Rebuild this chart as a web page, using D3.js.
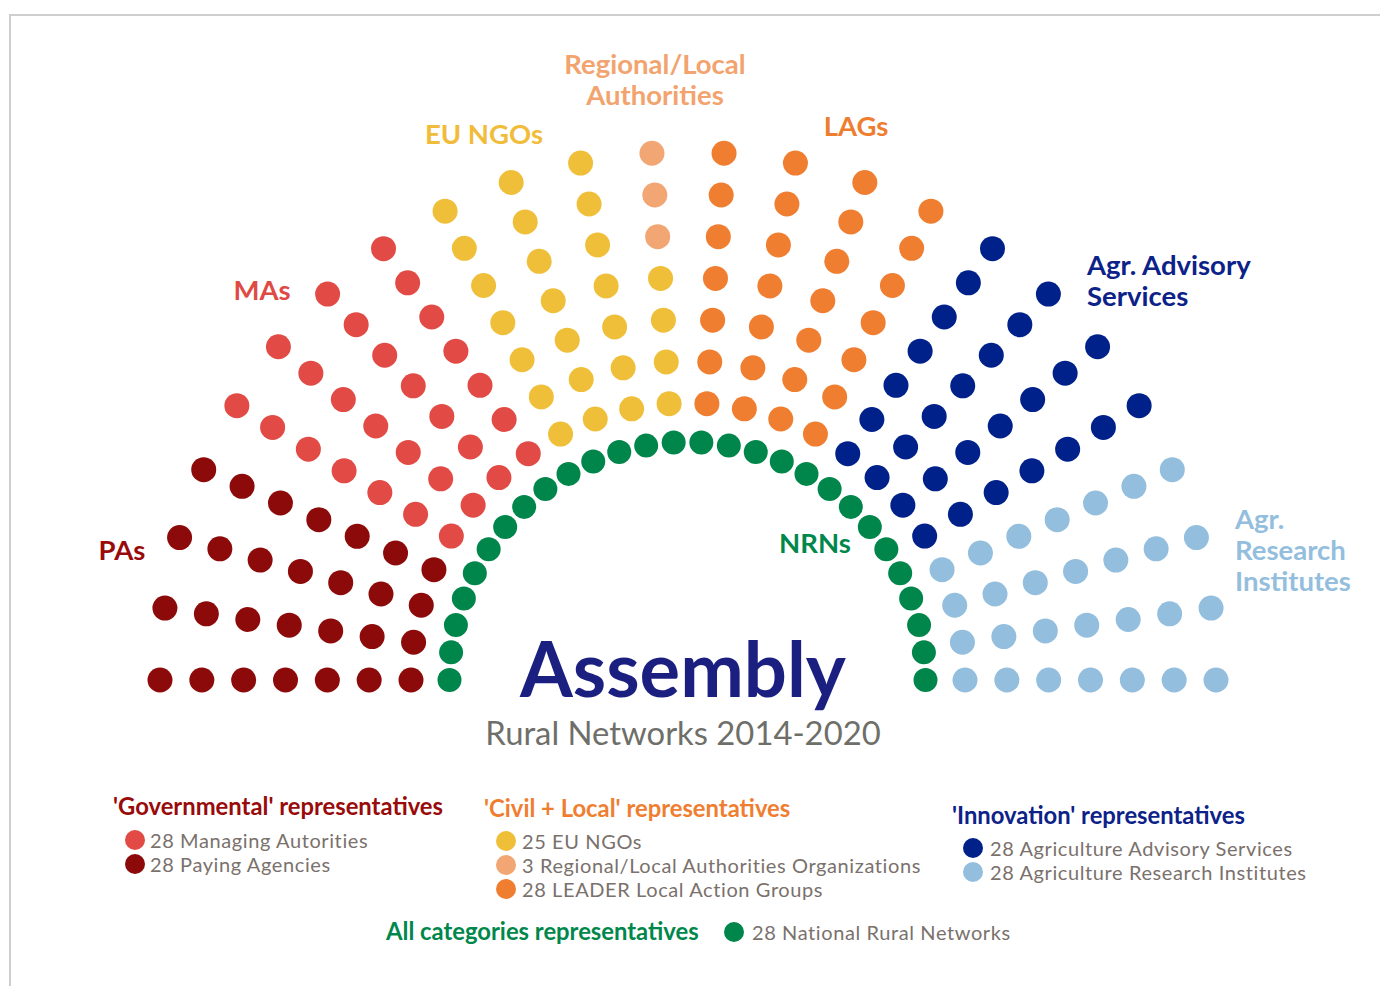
<!DOCTYPE html>
<html>
<head>
<meta charset="utf-8">
<script src="https://cdn.jsdelivr.net/npm/d3@7"></script>
<style>
  html, body { margin: 0; padding: 0; background: #fff; }
  svg { display: block; font-family: Lato, "Open Sans", sans-serif; }
</style>
</head>
<body>
<div id="chart"></div>
<script>
// Seat groups, filled ray by ray (left to right), inner to outer
const groups = ["PAs", "MAs", "EU NGOs", "Regional/Local Authorities", "LAGs", "Agr. Advisory Services", "Agr. Research Institutes"];
const seats = [28, 28, 25, 3, 28, 28, 28];
const colors = ["#8c0a0a", "#e24b45", "#f0bf3a", "#f2a673", "#ef7e30", "#00218a", "#93bedd"];

// Inner arc: National Rural Networks
const nrnSeats = 28;
const nrnColor = "#00864a";

// Legend content
const legendTitles = ["'Governmental' representatives", "'Civil + Local' representatives", "'Innovation' representatives", "All categories representatives"];
const legendItems = [
  ["28 Managing Autorities", "28 Paying Agencies"],
  ["25 EU NGOs", "3 Regional/Local Authorities Organizations", "28 LEADER Local Action Groups"],
  ["28 Agriculture Advisory Services", "28 Agriculture Research Institutes"],
  ["28 National Rural Networks"]
];
const legendColors = [
  ["#e24b45", "#8c0a0a"],
  ["#f0bf3a", "#f2a673", "#ef7e30"],
  ["#00218a", "#93bedd"],
  ["#00864a"]
];

const width = 1380, height = 986;
const cx = 688, cy = 680;
const rays = 24, perRay = 7;

const svg = d3.select("#chart").append("svg")
  .attr("width", width)
  .attr("height", height);

// frame
svg.append("path")
  .attr("d", `M10,${height} L10,15 L${width},15`)
  .attr("fill", "none")
  .attr("stroke", "#cfcfcf")
  .attr("stroke-width", 2);

// Scales
const angle = d3.scaleLinear().domain([0, rays - 1]).range([Math.PI, 0]);
const radius = d3.scaleLinear().domain([0, perRay - 1]).range([277, 528]);
const nrnAngle = d3.scaleLinear().domain([0, nrnSeats - 1]).range([Math.PI, 0]);
const nrnRadius = 238;

// build seat list
const seatData = [];
groups.forEach((g, gi) => {
  d3.range(seats[gi]).forEach(() => seatData.push({ group: g, color: colors[gi] }));
});
seatData.forEach((d, i) => {
  d.ray = Math.floor(i / perRay);
  d.row = i % perRay;
});

svg.append("g").selectAll("circle")
  .data(seatData)
  .join("circle")
  .attr("cx", d => cx + radius(d.row) * Math.cos(angle(d.ray)))
  .attr("cy", d => cy - radius(d.row) * Math.sin(angle(d.ray)))
  .attr("r", 12.5)
  .attr("fill", d => d.color);

svg.append("g").selectAll("circle")
  .data(d3.range(nrnSeats))
  .join("circle")
  .attr("cx", i => cx - 0.5 + nrnRadius * Math.cos(nrnAngle(i)))
  .attr("cy", i => cy - nrnRadius * Math.sin(nrnAngle(i)))
  .attr("r", 12)
  .attr("fill", nrnColor);

// Group labels
const labels = [
  { lines: ["PAs"], x: 122, y: 560, anchor: "middle", color: "#990a0a" },
  { lines: ["MAs"], x: 262, y: 300, anchor: "middle", color: "#e04a44" },
  { lines: ["EU NGOs"], x: 484, y: 144, anchor: "middle", color: "#f0bc3a" },
  { lines: ["Regional/Local", "Authorities"], x: 655, y: 74, anchor: "middle", color: "#f2a36e" },
  { lines: ["LAGs"], x: 856, y: 136, anchor: "middle", color: "#ee7d2f" },
  { lines: ["Agr. Advisory", "Services"], x: 1087, y: 275, anchor: "start", color: "#0c2288" },
  { lines: ["Agr.", "Research", "Institutes"], x: 1235, y: 529, anchor: "start", color: "#93bedd" },
  { lines: ["NRNs"], x: 815, y: 553, anchor: "middle", color: "#00874b" }
];
labels.forEach(l => {
  const t = svg.append("text")
    .attr("x", l.x).attr("y", l.y)
    .attr("text-anchor", l.anchor)
    .attr("fill", l.color)
    .attr("font-size", 27.5)
    .attr("font-weight", 700);
  l.lines.forEach((s, i) => {
    t.append("tspan").attr("x", l.x).attr("dy", i === 0 ? 0 : 31).text(s);
  });
});

// Title
svg.append("text")
  .attr("x", 683).attr("y", 697)
  .attr("text-anchor", "middle")
  .attr("fill", "#1a1f80")
  .attr("font-size", 76)
  .attr("font-weight", 700)
  .text("Assembly");

svg.append("text")
  .attr("x", 683).attr("y", 745)
  .attr("text-anchor", "middle")
  .attr("fill", "#6f6f6a")
  .attr("font-size", 32.8)
  .text("Rural Networks 2014-2020");

// Legend
const legendPos = [
  { x: 113, y: 815, dotX: 135, itemX: 150, itemY: 848 },
  { x: 484, y: 817, dotX: 506, itemX: 522, itemY: 849 },
  { x: 952, y: 824, dotX: 973, itemX: 990, itemY: 856 },
  { x: 386, y: 940, dotX: 734, itemX: 752, itemY: 940 }
];
const titleColors = ["#990a0a", "#ef7e30", "#0c2288", "#00874b"];

legendTitles.forEach((title, gi) => {
  const p = legendPos[gi];
  svg.append("text")
    .attr("x", p.x).attr("y", p.y)
    .attr("fill", titleColors[gi])
    .attr("font-size", 23.8)
    .attr("font-weight", 700)
    .text(title);

  legendItems[gi].forEach((item, ii) => {
    const y = p.itemY + ii * 24;
    svg.append("circle")
      .attr("cx", p.dotX).attr("cy", y - 8)
      .attr("r", 10)
      .attr("fill", legendColors[gi][ii]);
    svg.append("text")
      .attr("x", p.itemX).attr("y", y)
      .attr("fill", "#7a716c")
      .attr("font-size", 20)
      .attr("letter-spacing", 0.6)
      .text(item);
  });
});
</script>
</body>
</html>
